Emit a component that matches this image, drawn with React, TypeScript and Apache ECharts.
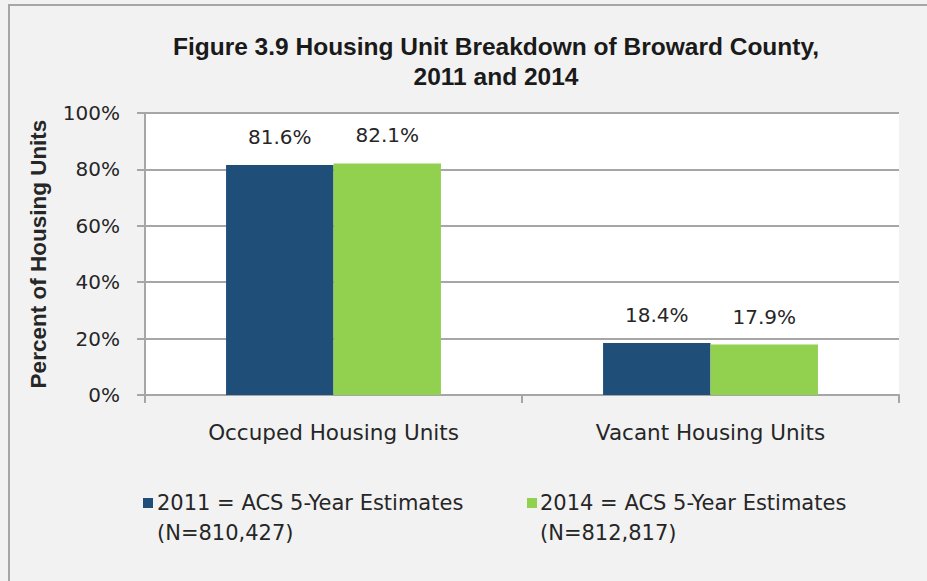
import React, { useEffect, useRef } from "react";
import * as echarts from "echarts";

const categories = ["Occuped Housing Units", "Vacant Housing Units"];
const seriesNames = ["2011 = ACS 5-Year Estimates", "2014 = ACS 5-Year Estimates"];
const seriesNotes = ["(N=810,427)", "(N=812,817)"];
const values2011 = [81.6, 18.4];
const values2014 = [82.1, 17.9];
const yTicks = [0, 20, 40, 60, 80, 100];
const colors = ["#1F4E79", "#92D050"];

const LABEL_FONT = "'DejaVu Sans', sans-serif";
const BOLD_FONT = "'Liberation Sans Narrow', 'Liberation Sans', sans-serif";

export default function App() {
  const ref = useRef<HTMLDivElement>(null);
  useEffect(() => {
    if (!ref.current) return;
    const chart = echarts.init(ref.current, undefined, { renderer: "svg" });
    const gridColor = "#A6A6A6";
    const textColor = "#262626";
    const mkSeries = (name: string, data: number[], color: string) => ({
      name,
      type: "bar",
      data,
      barGap: "0%",
      barCategoryGap: "43%",
      itemStyle: { color },
      label: {
        show: true,
        position: "top",
        distance: 18,
        formatter: (p: any) => p.value.toFixed(1) + "%",
        fontFamily: LABEL_FONT,
        fontSize: 20,
        color: textColor,
      },
    });
    chart.setOption({
      animation: false,
      backgroundColor: "#F2F2F2",
      title: {
        text: "Figure 3.9 Housing Unit Breakdown of Broward County,\n2011 and 2014",
        left: 491,
        top: 26,
        textAlign: "center",
        textStyle: {
          fontFamily: BOLD_FONT,
          fontWeight: "bold",
          fontSize: 24.5,
          lineHeight: 30,
          color: "#1A1A1A",
        },
      },
      grid: { left: 145, right: 28, top: 113, bottom: 186, backgroundColor: "#FFFFFF", show: true, borderWidth: 0 },
      xAxis: {
        type: "category",
        data: categories,
        axisLine: { lineStyle: { color: gridColor, width: 2 } },
        axisTick: { show: true, length: 8, alignWithLabel: false, lineStyle: { color: gridColor, width: 2 } },
        axisLabel: { fontFamily: LABEL_FONT, fontSize: 21.5, color: textColor, margin: 26 },
      },
      yAxis: {
        type: "value",
        min: yTicks[0],
        max: yTicks[yTicks.length - 1],
        interval: 20,
        name: "Percent of Housing Units",
        nameLocation: "middle",
        nameRotate: 90,
        nameGap: 95,
        nameTextStyle: {
          fontFamily: BOLD_FONT,
          fontWeight: "bold",
          fontSize: 22.5,
          color: textColor,
        },
        axisLine: { show: true, lineStyle: { color: gridColor, width: 2 } },
        axisTick: { show: true, length: 8, lineStyle: { color: gridColor, width: 2 } },
        splitLine: { lineStyle: { color: gridColor, width: 2 } },
        axisLabel: {
          formatter: "{value}%",
          fontFamily: LABEL_FONT,
          fontSize: 20,
          color: textColor,
          margin: 25,
        },
      },
      series: [
        mkSeries(seriesNames[0], values2011, colors[0]),
        mkSeries(seriesNames[1], values2014, colors[1]),
      ],
      graphic: [
        { type: "line", shape: { x1: 8, y1: 5, x2: 927, y2: 5 }, style: { stroke: gridColor, lineWidth: 2 } },
        { type: "line", shape: { x1: 9, y1: 4, x2: 9, y2: 581 }, style: { stroke: gridColor, lineWidth: 2 } },
        { type: "rect", shape: { x: 143, y: 498, width: 10, height: 10 }, style: { fill: colors[0] } },
        {
          type: "text",
          x: 157,
          y: 488,
          style: {
            text: seriesNames[0] + "\n" + seriesNotes[0],
            fontFamily: LABEL_FONT,
            fontSize: 21,
            lineHeight: 30,
            fill: textColor,
            verticalAlign: "top",
          },
        },
        { type: "rect", shape: { x: 527, y: 498, width: 10, height: 10 }, style: { fill: colors[1] } },
        {
          type: "text",
          x: 540,
          y: 488,
          style: {
            text: seriesNames[1] + "\n" + seriesNotes[1],
            fontFamily: LABEL_FONT,
            fontSize: 21,
            lineHeight: 30,
            fill: textColor,
            verticalAlign: "top",
          },
        },
      ],
    });
    return () => chart.dispose();
  }, []);
  return (
    <div
      ref={ref}
      style={{ position: "fixed", left: 0, top: 0, width: 927, height: 581 }}
    />
  );
}
